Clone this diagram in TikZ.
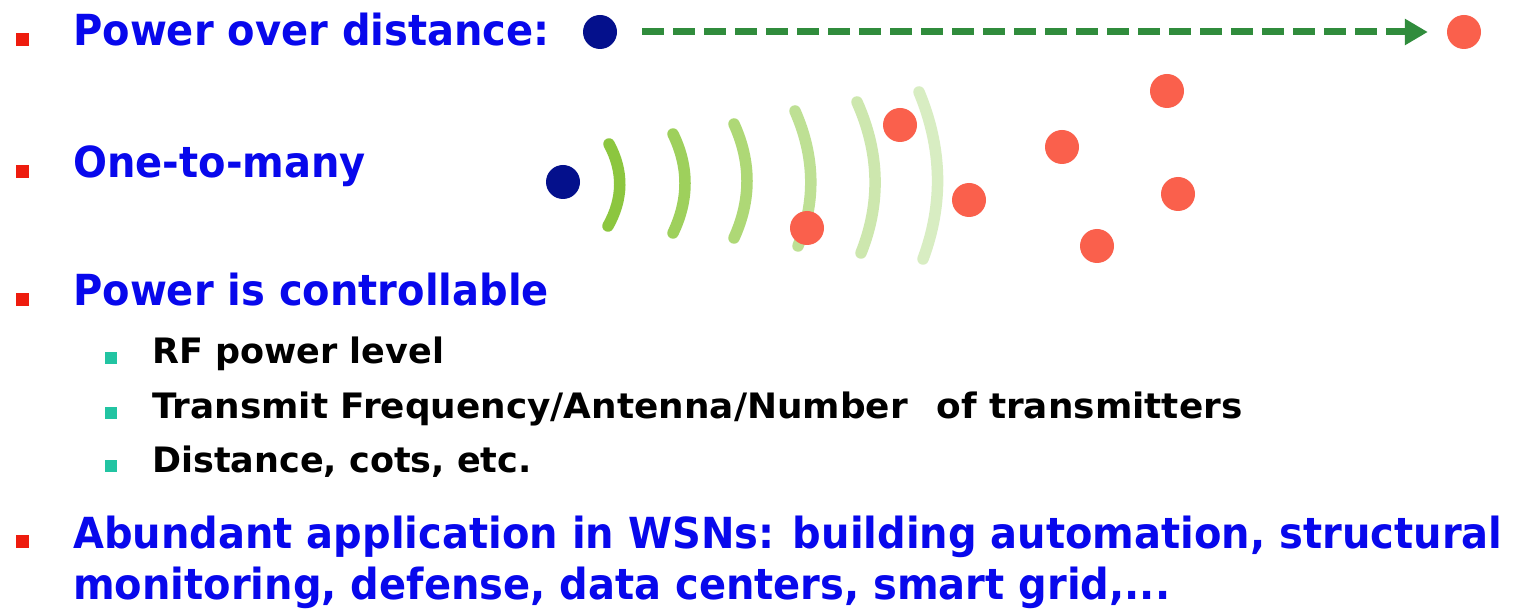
\documentclass[tikz,border=0pt]{standalone}
\usepackage{fontspec}
\setmainfont{DejaVu Sans}
\usetikzlibrary{arrows.meta,calc}

\definecolor{headblue}{RGB}{8,8,236}
\definecolor{bulletred}{RGB}{238,28,14}
\definecolor{bulletteal}{RGB}{34,196,162}
\definecolor{nodenavy}{RGB}{4,16,140}
\definecolor{nodered}{RGB}{250,96,76}
\definecolor{linkgreen}{RGB}{48,140,60}
\definecolor{waveA}{RGB}{140,198,63}
\definecolor{waveB}{RGB}{158,208,92}
\definecolor{waveC}{RGB}{174,216,118}
\definecolor{waveD}{RGB}{190,224,148}
\definecolor{waveE}{RGB}{205,231,174}
\definecolor{waveF}{RGB}{216,237,194}

% slightly taller lettering for the headings
\newcommand\tallhead[1]{\scalebox{1}[1.07]{#1}}
% a smooth bow from #1 to #2, pulled towards #3 (quadratic control point)
\newcommand\wavebow[4]{%
  \draw[wave,#4] #1 .. controls ($#1!0.6667!#3$) and ($#2!0.6667!#3$) .. #2;}

\begin{document}
\begin{tikzpicture}[x=1pt,y=-1pt,
  headtext/.style={anchor=base west,inner sep=0pt,text=headblue,
    font=\fontsize{40}{48}\selectfont\bfseries},
  subtext/.style={anchor=base west,inner sep=0pt,text=black,
    font=\fontsize{35}{42}\selectfont\bfseries},
  redsq/.style={rectangle,fill=bulletred,inner sep=0pt,minimum size=13pt},
  tealsq/.style={rectangle,fill=bulletteal,inner sep=0pt,minimum size=11.5pt},
  sender/.style={circle,fill=nodenavy,inner sep=0pt,minimum size=34pt},
  receiver/.style={circle,fill=nodered,inner sep=0pt,minimum size=34pt},
  flow/.style={draw=linkgreen,line width=7pt,dash pattern=on 22pt off 9pt,
    -{Triangle[length=23pt,width=25pt]},shorten <=25pt,shorten >=19pt},
  wave/.style={line width=11.5pt,line cap=round}]

\fill[white] (0,0) rectangle (1513,609);
\useasboundingbox (0,0) rectangle (1513,609);

% main bullet points
\node[redsq] (b1) at (22.5,39.5) {};
\node[headtext] (t1) at (73,46) {\tallhead{Power over distance:}};
\node[redsq] (b2) at (22.5,171.5) {};
\node[headtext] (t2) at (73,178) {\tallhead{One-to-many}};
\node[redsq] (b3) at (22.5,299.5) {};
\node[headtext] (t3) at (73,306) {\tallhead{Power is controllable}};
\node[redsq] (b4) at (22.5,541.5) {};
\node[headtext] (t4) at (73,548) {\tallhead{Abundant application in WSNs: building automation, structural}};
\node[headtext] (t5) at (73,599) {\tallhead{monitoring, defense, data centers, smart grid,...}};

% sub-points
\node[tealsq] (s1) at (111,358) {};
\node[subtext] (u1) at (152,364) {RF power level};
\node[tealsq] (s2) at (111,413) {};
\node[subtext] (u2) at (152,419) {\scalebox{1.025}[1]{Transmit Frequency/Antenna/Number\hspace{0.45em} of transmitters}};
\node[tealsq] (s3) at (111,466) {};
\node[subtext] (u3) at (152,472) {Distance, cots, etc.};

% point-to-point link
\node[sender] (src1) at (600,32) {};
\node[receiver] (dst1) at (1464,32) {};
\draw[flow] (src1) -- (dst1);

% broadcast waves, fading with distance
\wavebow{(919,92)}{(923,259)}{(954,176)}{waveF}
\wavebow{(857,102)}{(861,253)}{(891,178)}{waveE}
\wavebow{(795,111)}{(798,246)}{(825,179)}{waveD}
\wavebow{(734,124)}{(734,238)}{(760,181)}{waveC}
\wavebow{(673,134)}{(673,233)}{(697,183)}{waveB}
\wavebow{(609,144)}{(608,226)}{(631,185)}{waveA}

% one-to-many nodes
\node[sender] (src2) at (563,182) {};
\node[receiver] (r1) at (900,125) {};
\node[receiver] (r2) at (807,228) {};
\node[receiver] (r3) at (969,200) {};
\node[receiver] (r4) at (1062,147) {};
\node[receiver] (r5) at (1167,91) {};
\node[receiver] (r6) at (1178,194) {};
\node[receiver] (r7) at (1097,246) {};
\end{tikzpicture}
\end{document}
